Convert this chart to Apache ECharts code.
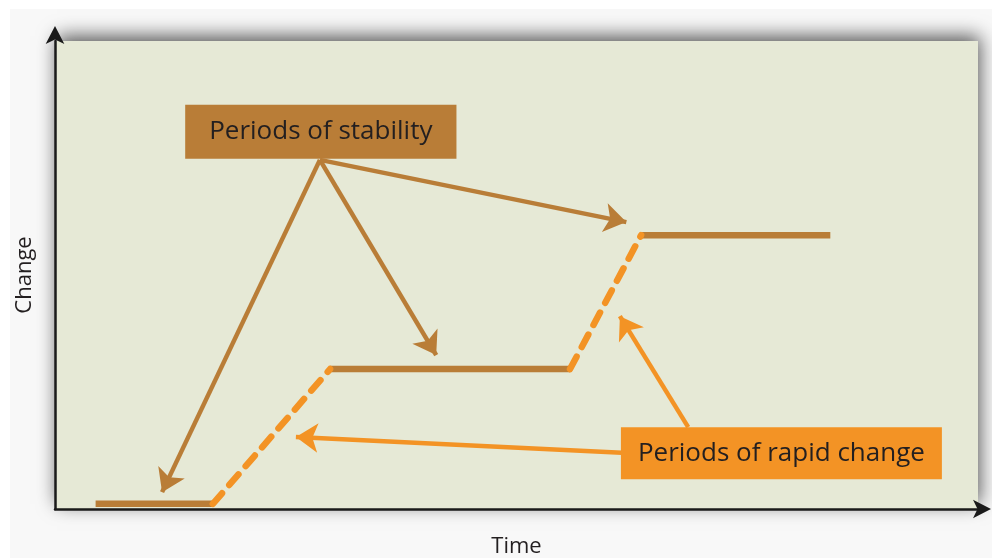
<!DOCTYPE html>
<html>
<head>
<meta charset="utf-8">
<script src="https://cdn.jsdelivr.net/npm/echarts@6/dist/echarts.min.js"></script>
<style>
  html, body { margin: 0; padding: 0; background: #ffffff; }
  #paper { position: absolute; left: 10px; top: 9px; width: 982px; height: 549px; background: #f8f8f8; }
  #chart { position: absolute; left: 0; top: 0; width: 992px; height: 558px; }
</style>
</head>
<body>
<div id="paper"></div>
<div id="chart"></div>
<script>
// Stable periods: start time, end time and level of change
const stableStart = [0.44, 2.98, 6.35];
const stableEnd   = [1.71, 5.58, 8.40];
const stableLevel = [0.11, 2.99, 5.85];

// Callout labels and their anchor points
const stabilityLabel = 'Periods of stability';
const stabilityAt = [2.88, 8.06];
const rapidLabel = 'Periods of rapid change';
const rapidAt = [7.87, 1.19];

// Pointer arrows: [from, to]
const stabilityArrows = [
  [[2.87, 7.46], [1.16, 0.36]],
  [[2.87, 7.46], [4.13, 3.29]],
  [[2.87, 7.46], [6.19, 6.13]]
];
const rapidArrows = [
  [[6.14, 1.20], [2.61, 1.54]],
  [[6.86, 1.75], [6.12, 4.12]]
];

const axisName = { x: 'Time', y: 'Change' };

const brown = '#b97d37';
const orange = '#f39325';
const ink = '#231f20';
const font = '"Open Sans", sans-serif';

// Solid stable segments and dashed transitions between them
const stableSeries = stableStart.map((s, i) => ({
  type: 'line',
  data: [[s, stableLevel[i]], [stableEnd[i], stableLevel[i]]],
  symbol: 'none',
  lineStyle: { color: brown, width: 6.5, cap: 'butt' },
  z: 3
}));
const rapidSeries = stableStart.slice(1).map((s, i) => ({
  type: 'line',
  data: [[stableEnd[i], stableLevel[i]], [s, stableLevel[i + 1]]],
  symbol: 'none',
  lineStyle: { color: orange, width: 6.5, type: [14, 11], cap: 'round' },
  z: 3
}));

function arrows(list, color) {
  return {
    type: 'lines',
    coordinateSystem: 'cartesian2d',
    symbol: ['none', 'arrow'],
    symbolSize: [19, 22],
    lineStyle: { color: color, width: 4.5, opacity: 1, curveness: 0 },
    data: list.map(a => ({ coords: a })),
    z: 4
  };
}

function callout(text, at, bg, padding) {
  return {
    type: 'scatter',
    data: [at],
    symbolSize: 0,
    silent: true,
    z: 10,
    itemStyle: { opacity: 1 },
    label: {
      show: true,
      opacity: 1,
      position: 'inside',
      formatter: text,
      backgroundColor: bg,
      padding: padding,
      color: ink,
      fontFamily: font,
      fontSize: 26,
      lineHeight: 28
    }
  };
}

const chart = echarts.init(document.getElementById('chart'));
chart.setOption({
  animation: false,
  grid: {
    left: 55, right: 14, top: 41, bottom: 49,
    containLabel: false,
    outerBoundsMode: 'none',
    show: true,
    backgroundColor: '#e6e9d6',
    borderWidth: 0,
    shadowColor: 'rgba(0,0,0,0.65)',
    shadowBlur: 18,
    shadowOffsetX: 2,
    shadowOffsetY: -5
  },
  xAxis: {
    type: 'value', min: 0, max: 10,
    name: axisName.x, nameLocation: 'middle', nameGap: 27,
    nameTextStyle: { color: ink, fontFamily: font, fontSize: 22 },
    axisLine: { show: true, onZero: false, symbol: ['none', 'arrow'], symbolSize: [14, 18], symbolOffset: [0, 13],
      lineStyle: { color: '#1a1a1a', width: 2.5 } },
    axisTick: { show: false }, axisLabel: { show: false }, splitLine: { show: false }
  },
  yAxis: {
    type: 'value', min: 0, max: 10,
    name: axisName.y, nameLocation: 'middle', nameGap: 19, nameRotate: 90,
    nameTextStyle: { color: ink, fontFamily: font, fontSize: 22 },
    axisLine: { show: true, onZero: false, symbol: ['none', 'arrow'], symbolSize: [14, 18], symbolOffset: [0, 15],
      lineStyle: { color: '#1a1a1a', width: 2.5 } },
    axisTick: { show: false }, axisLabel: { show: false }, splitLine: { show: false }
  },
  series: [
    ...stableSeries,
    ...rapidSeries,
    arrows(stabilityArrows, brown),
    arrows(rapidArrows, orange),
    callout(stabilityLabel, stabilityAt, brown, [13, 24, 13, 24]),
    callout(rapidLabel, rapidAt, orange, [12, 17, 12, 17])
  ]
});
</script>
</body>
</html>
